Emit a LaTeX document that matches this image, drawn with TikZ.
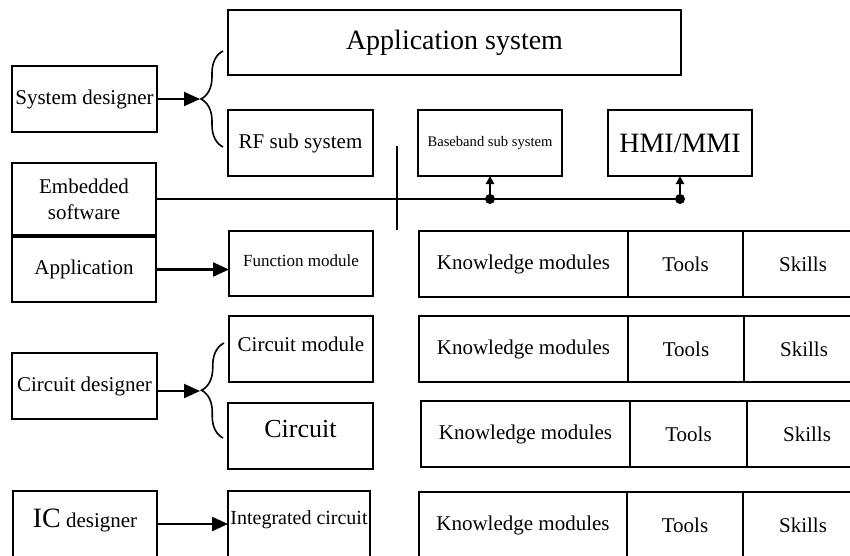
\documentclass[tikz,border=0pt]{standalone}
\usepackage{fontspec}
\setmainfont{Liberation Serif}
\usetikzlibrary{positioning,arrows.meta,decorations.pathreplacing}

\newcommand{\txtsz}[1]{\fontsize{#1}{#1}\selectfont}

\begin{document}
\begin{tikzpicture}[x=1pt, y=-1pt,
    blk/.style={draw, line width=1.6pt, inner sep=0pt, outer sep=0pt, align=center,
                minimum width=144pt, minimum height=66pt, font=\fontsize{21}{26}\selectfont},
    arr/.style={-{Triangle[length=16pt,width=14pt]}, line width=2.2pt},
    tick/.style={-{Triangle[length=8pt,width=8pt]}, line width=2.2pt},
    brc/.style={decorate, decoration={brace, amplitude=22pt}, line width=1.6pt}]
    \useasboundingbox (0,0) rectangle (850,555);
    \clip (0,0) rectangle (850,555);

    % designers (left column)
    \node[blk, minimum width=145pt] (sysdes) at (84.5,99) {System designer};
    \node[blk, minimum height=72pt] (emb) at (84,199) {Embedded\\software};
    \node[blk, minimum height=65pt] (app) at (84,269.5) {Application};
    \node[blk, minimum width=145pt] (cirdes) at (84.5,386) {Circuit designer};
    \node[blk, text depth=12pt] (icdes) at (85,524) {{\txtsz{28}IC} designer};

    % system level
    \node[blk, minimum width=453pt, minimum height=65pt, font=\txtsz{28}] (appsys) at (454.5,42.5) {Application system};
    \node[blk, minimum width=145pt] (rf) at (300.5,143) {RF sub system};
    \node[blk, font=\txtsz{14.6}] (bb) at (490,143) {Baseband sub system};
    \node[blk, font=\txtsz{28}] (hmi) at (680,143) {HMI/MMI};

    % modules (middle column)
    \node[blk, minimum height=65pt, font=\txtsz{17}, text depth=6pt] (func) at (301,263.5) {Function module};
    \node[blk, text depth=10pt] (cirmod) at (301,349) {Circuit module};
    \node[blk, minimum width=145pt, font=\txtsz{26}, text depth=14pt] (cir) at (300.5,436) {Circuit};
    \node[blk, minimum width=142pt, font=\txtsz{20}, text depth=12pt] (ic) at (299,524) {Integrated circuit};

    % knowledge / tools / skills rows
    \node[blk, minimum width=209pt] (kn1) at (523.5,264) {Knowledge modules};
    \node[blk, minimum width=115pt, right=0pt of kn1] (to1) {Tools};
    \node[blk, minimum width=120pt, right=0pt of to1] (sk1) {Skills};
    \node[blk, minimum width=209pt] (kn2) at (523.5,349) {Knowledge modules};
    \node[blk, minimum width=116pt, right=0pt of kn2] (to2) {Tools};
    \node[blk, minimum width=120pt, right=0pt of to2] (sk2) {Skills};
    \node[blk, minimum width=209pt] (kn3) at (525.5,434) {Knowledge modules};
    \node[blk, minimum width=117pt, right=0pt of kn3] (to3) {Tools};
    \node[blk, minimum width=120pt, right=0pt of to3] (sk3) {Skills};
    \node[blk, minimum width=208pt] (kn4) at (523,525) {Knowledge modules};
    \node[blk, minimum width=116pt, right=0pt of kn4] (to4) {Tools};
    \node[blk, minimum width=120pt, right=0pt of to4] (sk4) {Skills};

    % braces and arrows
    \coordinate (sbtip) at (200,99);
    \coordinate (cbtip) at (200,391);
    \draw[brc] ([xshift=-5pt,yshift=-4pt]rf.west) -- ([xshift=-5pt,yshift=-8.5pt]appsys.west);
    \draw[brc] ([xshift=-5pt,yshift=-2pt]cir.west) -- ([xshift=-5pt,yshift=6pt]cirmod.west);
    \draw[arr] (sysdes.east) -- (sbtip);
    \draw[arr] (cirdes.east |- cbtip) -- (cbtip);
    \draw[arr] (app.east) -- (func.west |- app.east);
    \draw[arr] (icdes.east) -- (ic.west);

    % bus from embedded software
    \coordinate (bbdot) at (bb.south |- emb.east);
    \coordinate (hmidot) at (hmi.south |- emb.east);
    \coordinate (cutT) at (397,146);
    \coordinate (cutB) at (397,230);
    \draw[line width=1.3pt] (emb.east) -- (hmidot);
    \draw[line width=1.1pt] (cutT) -- (cutB);
    \fill (bbdot) circle (5);
    \fill (hmidot) circle (5);
    \draw[tick] (bbdot) -- (bb.south);
    \draw[tick] (hmidot) -- (hmi.south);
\end{tikzpicture}
\end{document}
